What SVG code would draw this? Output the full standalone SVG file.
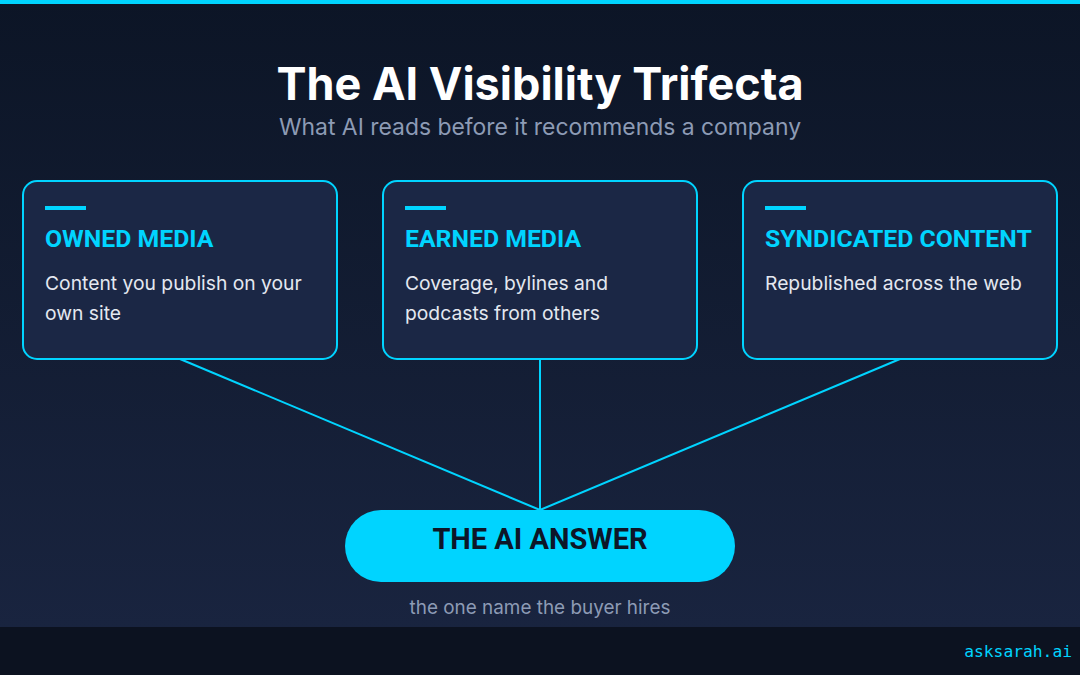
<svg xmlns="http://www.w3.org/2000/svg" width="1080" height="675" viewBox="0 0 1080 675">
<defs>
<linearGradient id="bg" x1="0" y1="0" x2="0" y2="1">
<stop offset="0" stop-color="#0c1526"/>
<stop offset="1" stop-color="#1a2541"/>
</linearGradient>
<style>
.card{fill:#1b2745;stroke:#00d4ff;stroke-width:2}
.bar{fill:#00d4ff}
.head{font-family:Roboto,"Liberation Sans",sans-serif;font-weight:700;font-size:24.8px;fill:#00d4ff}
.body{font-family:Inter,"Liberation Sans",sans-serif;font-size:19.3px;fill:#e4e8f0}
.conn{stroke:#00d4ff;stroke-width:2;fill:none}
</style>
</defs>
<rect x="0" y="0" width="1080" height="675" fill="url(#bg)"/>
<rect x="0" y="0" width="1080" height="4" fill="#00d4ff"/>
<rect x="0" y="627" width="1080" height="48" fill="#0c1220"/>
<g id="title">
<text x="540" y="100" text-anchor="middle" font-family="Inter,'Liberation Sans',sans-serif" font-weight="700" font-size="45" fill="#ffffff">The AI Visibility Trifecta</text>
<text x="540" y="135" text-anchor="middle" font-family="Inter,'Liberation Sans',sans-serif" font-size="22.9" fill="#8d9bb5">What AI reads before it recommends a company</text>
</g>
<g id="connectors">
<line class="conn" x1="180" y1="359" x2="540" y2="510"/>
<line class="conn" x1="540" y1="359" x2="540" y2="510"/>
<line class="conn" x1="900" y1="359" x2="540" y2="510"/>
</g>
<g id="owned">
<rect class="card" x="23" y="181" width="314" height="178" rx="14"/>
<rect class="bar" x="45" y="206" width="41" height="4"/>
<text class="head" x="45" y="247">OWNED MEDIA</text>
<text class="body" x="45" y="290">Content you publish on your</text>
<text class="body" x="45" y="320">own site</text>
</g>
<g id="earned">
<rect class="card" x="383" y="181" width="314" height="178" rx="14"/>
<rect class="bar" x="405" y="206" width="41" height="4"/>
<text class="head" x="405" y="247">EARNED MEDIA</text>
<text class="body" x="405" y="290">Coverage, bylines and</text>
<text class="body" x="405" y="320">podcasts from others</text>
</g>
<g id="syndicated">
<rect class="card" x="743" y="181" width="314" height="178" rx="14"/>
<rect class="bar" x="765" y="206" width="41" height="4"/>
<text class="head" x="765" y="247">SYNDICATED CONTENT</text>
<text class="body" x="765" y="290">Republished across the web</text>
</g>
<g id="answer">
<rect x="345" y="510" width="390" height="72" rx="36" fill="#00d4ff"/>
<text x="540" y="549" text-anchor="middle" font-family="Roboto,'Liberation Sans',sans-serif" font-weight="700" font-size="29" fill="#0d1628">THE AI ANSWER</text>
<text x="540" y="614" text-anchor="middle" font-family="Inter,'Liberation Sans',sans-serif" font-size="18.9" fill="#8d9bb5">the one name the buyer hires</text>
</g>
<g id="footer">
<text x="1072" y="657" text-anchor="end" font-family="'DejaVu Sans Mono','Liberation Mono',monospace" font-size="16.3" fill="#00d4ff">asksarah.ai</text>
</g>
</svg>
